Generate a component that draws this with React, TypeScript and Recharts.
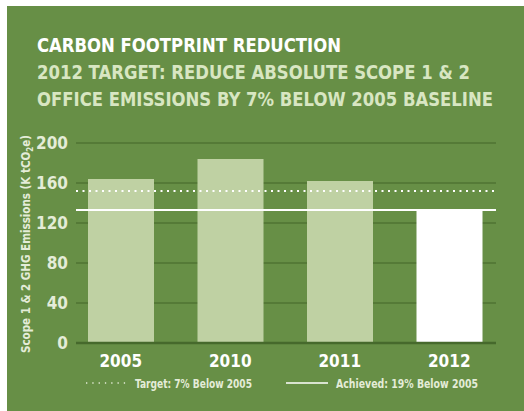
import React from 'react';
import { BarChart, Bar, XAxis, YAxis, CartesianGrid, ReferenceLine, Cell } from 'recharts';

const years = ['2005', '2010', '2011', '2012'];
const emissions = [164, 184, 162, 133];
const yTicks = [0, 40, 80, 120, 160, 200];
const targetValue = 152;
const achievedValue = 133;

const data = years.map((year, i) => ({ year, value: emissions[i] }));

const BG = '#678f46';
const BAR = '#bfd1a3';
const GRID = '#557a37';
const FONT = '"Liberation Sans Narrow", "DejaVu Sans Condensed", "Roboto", sans-serif';

const YLabel = () => (
  <text
    transform="translate(30, 244) rotate(-90)"
    textAnchor="middle"
    fill="#e4ecd8"
    fontFamily={FONT}
    fontWeight="bold"
    fontSize={11.5}
  >
    Scope 1 &amp; 2  GHG Emissions (K tCO
    <tspan fontSize={8} dy={3}>2</tspan>
    <tspan dy={-3}>e)</tspan>
  </text>
);

export default function App() {
  return (
    <div style={{ position: 'absolute', left: 0, top: 0, width: 524, height: 411, background: '#fff', overflow: 'hidden' }}>
      <div style={{ position: 'absolute', left: 7, top: 6, width: 517, height: 405, background: BG }} />
      <svg width={524} height={120} style={{ position: 'absolute', left: 0, top: 0 }}>
        <text x={37} y={52} fill="#ffffff" fontFamily={FONT} fontWeight="bold" fontSize={19.5}
          textLength={304} lengthAdjust="spacingAndGlyphs">CARBON FOOTPRINT REDUCTION</text>
        <text x={37} y={79} fill="#d8e6c2" fontFamily={FONT} fontWeight="bold" fontSize={19.5}
          textLength={433} lengthAdjust="spacingAndGlyphs">2012 TARGET: REDUCE ABSOLUTE SCOPE 1 &amp; 2</text>
        <text x={37} y={106} fill="#d8e6c2" fontFamily={FONT} fontWeight="bold" fontSize={19.5}
          textLength={456} lengthAdjust="spacingAndGlyphs">OFFICE EMISSIONS BY 7% BELOW 2005 BASELINE</text>
      </svg>
      <div style={{ position: 'absolute', left: 0, top: 0 }}>
        <BarChart width={524} height={411} data={data}
          margin={{ top: 143, right: 28, bottom: 38, left: 16 }}>
          <CartesianGrid vertical={false} stroke={GRID} strokeWidth={2} horizontalValues={yTicks} />
          <XAxis dataKey="year" height={30} axisLine={false} tickLine={false} padding={{ left: -10, right: -8 }}
            tick={{ fill: '#ffffff', fontFamily: FONT, fontWeight: 'bold', fontSize: 17 }} dy={4} />
          <YAxis domain={[0, 200]} ticks={yTicks} width={60} axisLine={false} tickLine={false}
            interval={0}
            tick={{ fill: '#e4ecd8', fontFamily: FONT, fontWeight: 'bold', fontSize: 17 }}
            label={<YLabel />} />
          <Bar dataKey="value" barSize={66} isAnimationActive={false}>
            {data.map((d, i) => (
              <Cell key={d.year} fill={i === data.length - 1 ? '#ffffff' : BAR} />
            ))}
          </Bar>
          <ReferenceLine y={0} stroke="#46692c" strokeWidth={2.5} />
          <ReferenceLine y={targetValue} stroke="#ffffff" strokeWidth={2} strokeDasharray="2 4.5" />
          <ReferenceLine y={achievedValue} stroke="#ffffff" strokeWidth={2} />
        </BarChart>
      </div>
      <svg width={524} height={30} style={{ position: 'absolute', left: 0, top: 370 }}>
        <line x1={86} x2={130} y1={13} y2={13} stroke="#e4ecd8" strokeWidth={1.3} strokeDasharray="1.3 5" />
        <text x={135} y={17.5} fill="#e4ecd8" fontFamily={FONT} fontWeight="bold" fontSize={12.5}
          textLength={117} lengthAdjust="spacingAndGlyphs">Target: 7% Below 2005</text>
        <line x1={286} x2={328} y1={13} y2={13} stroke="#ffffff" strokeWidth={1.5} />
        <text x={336} y={17.5} fill="#e4ecd8" fontFamily={FONT} fontWeight="bold" fontSize={12.5}
          textLength={142} lengthAdjust="spacingAndGlyphs">Achieved: 19% Below 2005</text>
      </svg>
    </div>
  );
}
